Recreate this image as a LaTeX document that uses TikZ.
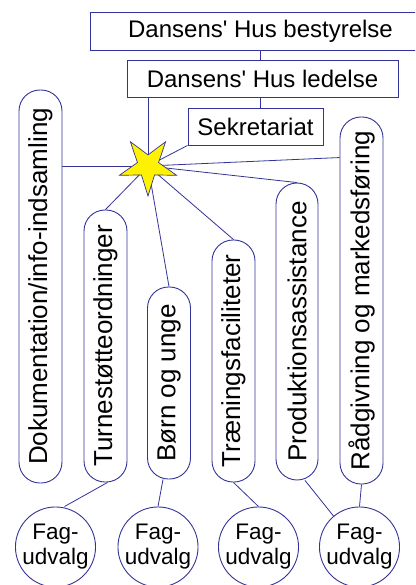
\documentclass[tikz,border=0pt]{standalone}
\usepackage{fontspec}
\setmainfont{Liberation Sans}
\usetikzlibrary{shapes.geometric,backgrounds}
\definecolor{navy}{RGB}{51,51,153}
\begin{document}
\begin{tikzpicture}[x=1pt,y=-1pt,line width=0.9pt,
  hbox/.style={draw=navy,fill=white,inner sep=0pt,font=\fontsize{24}{28}\selectfont},
  vbox/.style={draw=navy,fill=white,inner sep=0pt,minimum width=43pt,rounded corners=21pt,font=\fontsize{26}{30}\selectfont},
  fag/.style={draw=navy,fill=white,circle,minimum size=80pt,inner sep=0pt,align=center,font=\fontsize{22.5}{25}\selectfont},
  conn/.style={draw=navy,line width=0.8pt}]
\clip (0,0) rectangle (415,585);
% top boxes
\node[hbox,minimum width=341pt,minimum height=38pt] (best) at (260.5,31) {Dansens\textquotesingle{} Hus bestyrelse};
\node[hbox,minimum width=271pt,minimum height=37pt] (led) at (262.5,78.5) {Dansens\textquotesingle{} Hus ledelse};
\node[hbox,minimum width=135pt,minimum height=37pt] (sek) at (255.5,126.5) {Sekretariat};
% vertical boxes
\node[vbox,minimum height=393pt] (doc) at (40.5,286.5) {\rotatebox{90}{Dokumentation/info-indsamling}};
\node[vbox,minimum height=272pt] (turn) at (105.5,346) {\rotatebox{90}{Turnestøtteordninger}};
\node[vbox,minimum height=192pt] (born) at (169,383) {\rotatebox{90}{Børn og unge}};
\node[vbox,minimum height=242pt] (tren) at (233.5,361) {\rotatebox{90}{Træningsfaciliteter}};
\node[vbox,minimum height=297pt,minimum width=42pt] (prod) at (297,331.5) {\rotatebox{90}{Produktionsassistance}};
\node[vbox,minimum height=367pt] (rad) at (361.5,300.5) {\rotatebox{90}{Rådgivning og markedsføring}};
% star
\node[star,star points=5,star point ratio=2.7,shape border rotate=180,minimum size=60pt,inner sep=0pt,fill=yellow,draw=navy,line width=0.7pt] (star) at (148,166) {};
% circles
\node[fag] (c1) at (55.5,547) {Fag-\\udvalg};
\node[fag] (c2) at (158,547) {Fag-\\udvalg};
\node[fag] (c3) at (258.5,547) {Fag-\\udvalg};
\node[fag] (c4) at (359.5,547) {Fag-\\udvalg};
\begin{scope}[on background layer]
\fill[white] (0,0) rectangle (415,585);
\draw[conn] (best.south) -- (best.south |- led.north);
\draw[conn] (best.south |- led.south) -- (best.south |- sek.north);
\draw[conn] (star.center |- led.south) -- (star.center);
\draw[conn] (sek.south west) -- (star.center);
\draw[conn] (star.center -| doc.east) -- (star.center);
\draw[conn] (star.center) -- ([yshift=-41pt]rad.north west);
\draw[conn] (star.center) -- (prod.north);
\draw[conn] (star.center) -- (tren.north);
\draw[conn] (star.center) -- (born.north);
\draw[conn] (star.center) -- (turn.north);
\draw[conn] ([xshift=2pt]turn.south) -- ([xshift=9pt]c1.north);
\draw[conn] ([xshift=-6pt]born.south) -- (c2.north);
\draw[conn] (tren.south) -- (c3.north);
\draw[conn] ([xshift=8pt]prod.south) -- (c4.130);
\draw[conn] (rad.south) -- (c4.north);
\end{scope}
\end{tikzpicture}
\end{document}
